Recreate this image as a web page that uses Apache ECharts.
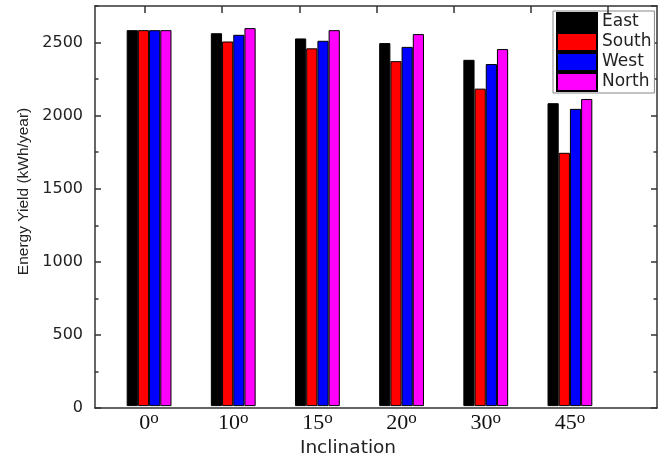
<!DOCTYPE html>
<html>
<head>
<meta charset="utf-8">
<script src="https://cdn.jsdelivr.net/npm/echarts@6/dist/echarts.min.js"></script>
<style>html,body{margin:0;padding:0;background:#fff;}#c{width:669px;height:463px;}</style>
</head>
<body>
<div id="c"></div>
<script>
var categories = ['0', '10', '15', '20', '30', '45'];
var seriesNames = ['East', 'South', 'West', 'North'];
var east  = [2584, 2563, 2527, 2495, 2380, 2082];
var south = [2584, 2506, 2459, 2371, 2182, 1741];
var west  = [2584, 2552, 2511, 2469, 2351, 2043];
var north = [2584, 2598, 2584, 2557, 2454, 2111];
var yTicks = [0, 500, 1000, 1500, 2000, 2500];
var seriesValues = [east, south, west, north];
var colors = ['#000000', '#ff0000', '#0000ff', '#ff00ff'];

var YMAX = 2750;
var chart = echarts.init(document.getElementById('c'), null, {renderer: 'canvas'});
function ls() { return {color: '#333', width: 1.5}; }
var option = {
  animation: false,
  backgroundColor: '#fff',
  grid: [
    {left: 95, right: 12, top: 6, bottom: 55},
    {left: 107, right: 57, top: 6, bottom: 55},
    {left: 145, right: 61, top: 13, bottom: 55, outerBoundsMode: 'none'}
  ],
  legend: {
    data: seriesNames,
    orient: 'vertical',
    left: 553, top: 11,
    icon: 'rect',
    itemWidth: 40, itemHeight: 18, itemGap: 0,
    padding: [1, 3, 1, 3],
    borderColor: '#888', borderWidth: 1,
    backgroundColor: '#fff',
    textStyle: {fontFamily: 'DejaVu Sans', fontSize: 17, lineHeight: 18, color: '#222'}
  },
  xAxis: [
    {gridIndex: 0, type: 'value', min: 0, max: 1, position: 'bottom',
     axisLine: {show: true, onZero: false, lineStyle: ls()}, axisTick: {show: false},
     axisLabel: {show: false}, splitLine: {show: false}},
    {gridIndex: 0, type: 'value', min: 0, max: 1, position: 'top',
     axisLine: {show: true, onZero: false, lineStyle: ls()}, axisTick: {show: false},
     axisLabel: {show: false}, splitLine: {show: false}},
    {gridIndex: 1, type: 'category', data: categories, position: 'bottom',
     axisLine: {show: false, onZero: false}, axisTick: {show: false}, splitLine: {show: false},
     name: 'Inclination', nameLocation: 'middle', nameGap: 30,
     nameTextStyle: {fontFamily: 'DejaVu Sans', fontSize: 18.5, color: '#222', padding: [0, 23, 0, 0]},
     axisLabel: {
       margin: 4,
       formatter: function (v) { return '{n|' + v + '}{s|o}'; },
       rich: {
         n: {fontFamily: 'Liberation Serif', fontSize: 22, color: '#111'},
         s: {fontFamily: 'Liberation Serif', fontSize: 17, color: '#111', padding: [0, 0, 9, 0]}
       }
     }},
    {gridIndex: 2, type: 'value', min: 0, max: 6, interval: 1, position: 'top', z: 10,
     axisLine: {show: false, onZero: false},
     axisTick: {show: true, inside: false, length: 7, lineStyle: {color: '#333', width: 1.5}},
     axisLabel: {show: false}, splitLine: {show: false}}
  ],
  yAxis: [
    {gridIndex: 0, type: 'value', min: 0, max: YMAX, interval: 500, position: 'left',
     axisLine: {show: true, onZero: false, lineStyle: ls()},
     axisTick: {show: true, inside: true, length: 6, lineStyle: ls()},
     splitLine: {show: false},
     axisLabel: {showMaxLabel: false, margin: 12, fontFamily: 'DejaVu Sans', fontSize: 16, color: '#222',
       formatter: function (v) { return yTicks.indexOf(v) >= 0 ? String(v) : ''; }},
     name: 'Energy Yield (kWh/year)', nameLocation: 'middle', nameGap: 58,
     nameTextStyle: {fontFamily: 'Liberation Sans', fontSize: 15.5, color: '#222', padding: [0, 0, 0, 31]}},
    {gridIndex: 0, type: 'value', min: 0, max: YMAX, interval: 250, position: 'left',
     axisLine: {show: false, onZero: false},
     axisTick: {show: true, inside: true, length: 3.5, lineStyle: ls()},
     splitLine: {show: false}, axisLabel: {show: false}},
    {gridIndex: 0, type: 'value', min: 0, max: YMAX, interval: 500, position: 'right',
     axisLine: {show: true, onZero: false, lineStyle: ls()},
     axisTick: {show: true, inside: true, length: 6, lineStyle: ls()},
     splitLine: {show: false}, axisLabel: {show: false}},
    {gridIndex: 0, type: 'value', min: 0, max: YMAX, interval: 250, position: 'right',
     axisLine: {show: false, onZero: false},
     axisTick: {show: true, inside: true, length: 3.5, lineStyle: ls()},
     splitLine: {show: false}, axisLabel: {show: false}},
    {gridIndex: 1, type: 'value', min: 0, max: YMAX, show: false},
    {gridIndex: 2, type: 'value', min: 0, max: 1, show: false}
  ],
  series: seriesNames.map(function (name, i) {
    return {
      name: name, type: 'bar', xAxisIndex: 2, yAxisIndex: 4,
      data: seriesValues[i], barWidth: 11.2, barGap: '0%',
      itemStyle: {color: colors[i], borderColor: '#000', borderWidth: 1}
    };
  })
};
chart.setOption(option);
</script>
</body>
</html>
